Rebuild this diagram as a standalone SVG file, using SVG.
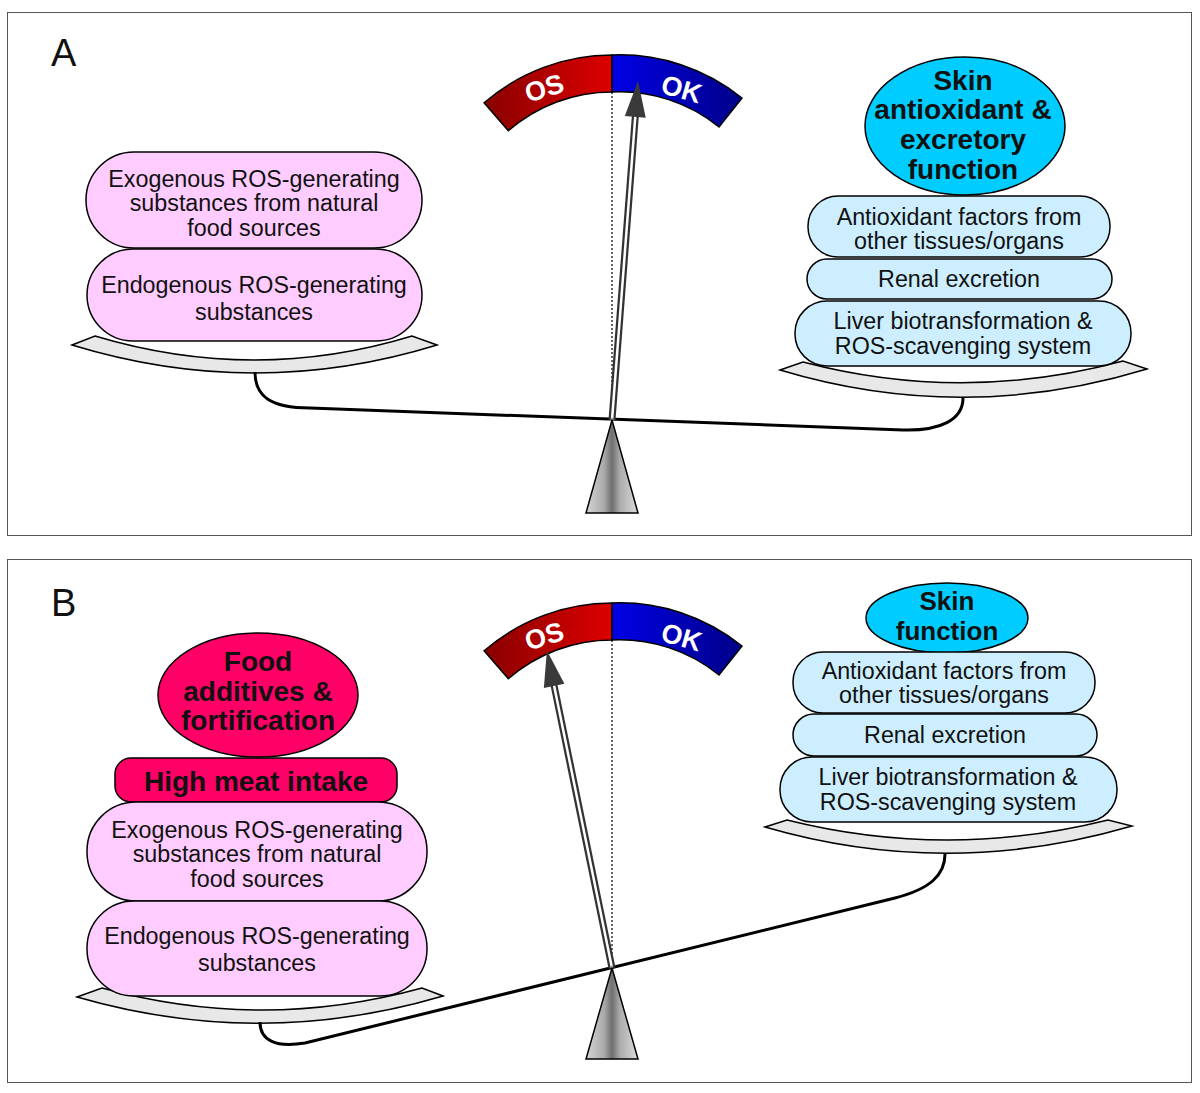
<svg xmlns="http://www.w3.org/2000/svg" width="1200" height="1093" viewBox="0 0 1200 1093">
<style>
text{font-family:"Liberation Sans",Arial,sans-serif;text-anchor:middle;fill:#111}
.t{font-size:23.3px}
.b{font-size:28px;font-weight:bold}
.b2{font-size:26px;font-weight:bold}
.g{font-size:27px;font-weight:bold;fill:#fff}
.lab{font-size:38px;text-anchor:start}
.pk{fill:#ffccff;stroke:#000;stroke-width:1.5}
.bl{fill:#cceeff;stroke:#000;stroke-width:1.5}
.cy{fill:#00ccff;stroke:#000;stroke-width:1.5}
.mg{fill:#ff0066;stroke:#000;stroke-width:1.5}
.pan{fill:#e8e8e8;stroke:#000;stroke-width:1.5}
.beam{fill:none;stroke:#000;stroke-width:3}
.frame{fill:#fff;stroke:#555;stroke-width:1}
.dot{stroke:#000;stroke-width:1.2;stroke-dasharray:2 2}
.piv{fill:url(#pg);stroke:#000;stroke-width:1.5}
</style>
<defs>
<linearGradient id="osg" x1="484" y1="0" x2="612" y2="0" gradientUnits="userSpaceOnUse"><stop offset="0" stop-color="#880000"/><stop offset="1" stop-color="#dd0000"/></linearGradient>
<linearGradient id="okg" x1="612" y1="0" x2="742" y2="0" gradientUnits="userSpaceOnUse"><stop offset="0" stop-color="#0000e6"/><stop offset="1" stop-color="#000088"/></linearGradient>
<linearGradient id="pg" x1="0" y1="0" x2="1" y2="0"><stop offset="0" stop-color="#d6d6d6"/><stop offset="0.35" stop-color="#aaaaaa"/><stop offset="0.5" stop-color="#6e6e6e"/><stop offset="0.65" stop-color="#aaaaaa"/><stop offset="1" stop-color="#dcdcdc"/></linearGradient>
<g id="gauge">
<path d="M484.1,102.8 A195,195 0 0 1 612,55 L612,92 A158,158 0 0 0 508.3,130.8 Z" fill="url(#osg)" stroke="#000" stroke-width="1.5"/>
<path d="M612,55 A195,195 0 0 1 742,98 L719,127 A158,158 0 0 0 612,92 Z" fill="url(#okg)" stroke="#000" stroke-width="1.5"/>
<text class="g" transform="translate(547,97) rotate(-17)">OS</text>
<text class="g" transform="translate(679,98) rotate(16)">OK</text>
</g>
</defs>
<rect class="frame" x="7.5" y="12.5" width="1184" height="523"/>
<rect class="frame" x="7.5" y="559.5" width="1184" height="523"/>
<text class="lab" x="51" y="66">A</text>
<text class="lab" x="51" y="616">B</text>

<!-- Panel A -->
<g id="gaugeA"><use href="#gauge"/></g>
<line class="dot" x1="612" y1="92" x2="612" y2="420"/>
<g id="panA-left"><path class="pan" d="M72,345 L95,336 Q255,384 412,336 L437,345 Q255,401 72,345 Z"/></g>
<g id="panA-right"><path class="pan" d="M780,370 L803,362 Q963,404 1123,361 L1147,369 Q963,425 780,370 Z"/></g>
<g id="exoA"><rect class="pk" x="86" y="152" width="336" height="96" rx="48"/>
<text class="t" x="254" y="187">Exogenous ROS-generating</text><text class="t" x="254" y="211">substances from natural</text><text class="t" x="254" y="236">food sources</text></g>
<g id="endoA"><rect class="pk" x="87" y="249" width="335" height="92" rx="46"/>
<text class="t" x="254" y="293">Endogenous ROS-generating</text><text class="t" x="254" y="320">substances</text></g>
<g id="skinA"><ellipse class="cy" cx="965" cy="126" rx="100" ry="69"/>
<text class="b" x="963" y="90">Skin</text><text class="b" x="963" y="119">antioxidant &amp;</text><text class="b" x="963" y="149">excretory</text><text class="b" x="963" y="179">function</text></g>
<g id="antiA"><rect class="bl" x="808" y="196" width="302" height="61" rx="30"/>
<text class="t" x="959" y="225">Antioxidant factors from</text><text class="t" x="959" y="249">other tissues/organs</text></g>
<g id="renalA"><rect class="bl" x="807" y="259" width="305" height="40" rx="20"/>
<text class="t" x="959" y="287">Renal excretion</text></g>
<g id="liverA"><rect class="bl" x="795" y="301" width="336" height="65" rx="32"/>
<text class="t" x="963" y="329">Liver biotransformation &amp;</text><text class="t" x="963" y="354">ROS-scavenging system</text></g>

<!-- Panel B -->
<g id="gaugeB" transform="translate(0,548)"><use href="#gauge"/></g>
<line class="dot" x1="612" y1="640" x2="612" y2="968"/>
<g id="panB-left"><path class="pan" d="M77,997 L102,988 Q262,1032 422,988 L443,996 Q260,1050 77,997 Z"/></g>
<g id="panB-right"><path class="pan" d="M765,827 L787,820 Q947,860 1108,820 L1132,826 Q947,880 765,827 Z"/></g>
<g id="foodB"><ellipse class="mg" cx="258" cy="695" rx="100" ry="62"/>
<text class="b" x="258" y="671">Food</text><text class="b" x="258" y="701">additives &amp;</text><text class="b" x="258" y="730">fortification</text></g>
<g id="meatB"><rect class="mg" x="115" y="758" width="282" height="44" rx="16"/>
<text class="b" x="256" y="791">High meat intake</text></g>
<g id="exoB"><rect class="pk" x="87" y="802" width="340" height="99" rx="49"/>
<text class="t" x="257" y="838">Exogenous ROS-generating</text><text class="t" x="257" y="862">substances from natural</text><text class="t" x="257" y="887">food sources</text></g>
<g id="endoB"><rect class="pk" x="87" y="901" width="340" height="95" rx="47"/>
<text class="t" x="257" y="944">Endogenous ROS-generating</text><text class="t" x="257" y="971">substances</text></g>
<g id="skinB"><ellipse class="cy" cx="947" cy="618" rx="81" ry="35"/>
<text class="b2" x="947" y="610">Skin</text><text class="b2" x="947" y="640">function</text></g>
<g id="antiB"><rect class="bl" x="793" y="652" width="302" height="61" rx="30"/>
<text class="t" x="944" y="679">Antioxidant factors from</text><text class="t" x="944" y="703">other tissues/organs</text></g>
<g id="renalB"><rect class="bl" x="793" y="714" width="304" height="42" rx="21"/>
<text class="t" x="945" y="743">Renal excretion</text></g>
<g id="liverB"><rect class="bl" x="780" y="757" width="337" height="65" rx="32"/>
<text class="t" x="948" y="785">Liver biotransformation &amp;</text><text class="t" x="948" y="810">ROS-scavenging system</text></g>

<g id="connectors">
<path class="beam" d="M255,372 C255,396 270,408 310,408 L903,430 C940,431 963,420 963,398"/>
<path class="beam" d="M260,1022 C260,1040 275,1048 305,1043 L895,898 C930,889 945,875 945,854"/>
<g transform="translate(612,420) rotate(4.39)">
<line x1="0" y1="0" x2="0" y2="-306" stroke="#333" stroke-width="7"/>
<line x1="0" y1="0" x2="0" y2="-306" stroke="#fff" stroke-width="2.5"/>
<polygon points="0,-340 -10.5,-304 10.5,-304" fill="#3a3a3a"/>
</g>
<g transform="translate(612,968) rotate(-11.59)">
<line x1="0" y1="0" x2="0" y2="-290" stroke="#333" stroke-width="7"/>
<line x1="0" y1="0" x2="0" y2="-290" stroke="#fff" stroke-width="2.5"/>
<polygon points="0,-324 -10.5,-288 10.5,-288" fill="#3a3a3a"/>
</g>
</g>
<g id="pivotA"><polygon class="piv" points="612,420 586,513 638,513"/></g>
<g id="pivotB"><polygon class="piv" points="612,968 586,1059 638,1059"/></g>
</svg>
